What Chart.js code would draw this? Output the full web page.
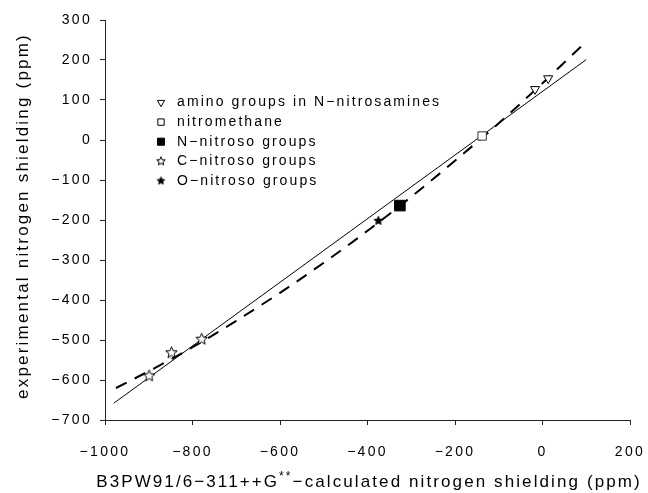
<!DOCTYPE html>
<html>
<head>
<meta charset="utf-8">
<script src="https://cdn.jsdelivr.net/npm/chart.js@4.4.1/dist/chart.umd.min.js"></script>
<style>
  html, body { margin: 0; padding: 0; background: #fff; }
  #wrap { width: 648px; height: 493px; }
</style>
</head>
<body>
<div id="wrap"><canvas id="grafico"></canvas></div>
<script>
// valores
const aminoX = [-17, 13];
const aminoY = [127, 154];
const nitrometanoX = [-138];
const nitrometanoY = [10];
const nNitrosoX = [-326];
const nNitrosoY = [-164];
const cNitrosoX = [-899, -848, -779];
const cNitrosoY = [-590, -532, -498];
const oNitrosoX = [-375];
const oNitrosoY = [-202];

// recta (solida) y curva (discontinua)
const rectaX = [-980, 100];
const rectaY = [-658, 201];
const curvaX = [-975, -900, -800, -700, -600, -500, -400, -300, -200, -100, 0, 100];
const curvaY = [-620, -578, -518, -452, -382, -307, -227, -142, -52, 42, 142, 246];

const xTicks = [-1000, -800, -600, -400, -200, 0, 200];
const yTicks = [300, 200, 100, 0, -100, -200, -300, -400, -500, -600, -700];

const etiquetas = [
  "amino groups in N\u2212nitrosamines",
  "nitromethane",
  "N\u2212nitroso groups",
  "C\u2212nitroso groups",
  "O\u2212nitroso groups"
];
const tituloX1 = "B3PW91/6\u2212311++G";
const tituloX2 = "**";
const tituloX3 = "\u2212calculated nitrogen shielding (ppm)";
const tituloY = "experimental nitrogen shielding (ppm)";

const FUENTE = "'Liberation Sans', Arial, sans-serif";

function puntos(xs, ys) {
  return xs.map((x, i) => ({ x: x, y: ys[i] }));
}

function estrella(r, relleno) {
  const s = Math.ceil(r * 2 + 3);
  const c = document.createElement("canvas");
  c.width = s; c.height = s;
  const g = c.getContext("2d");
  g.beginPath();
  for (let i = 0; i < 10; i++) {
    const rad = i % 2 === 0 ? r : r * 0.45;
    const a = -Math.PI / 2 + i * Math.PI / 5;
    const px = s / 2 + rad * Math.cos(a);
    const py = s / 2 + rad * Math.sin(a);
    if (i === 0) g.moveTo(px, py); else g.lineTo(px, py);
  }
  g.closePath();
  g.fillStyle = relleno ? "#000" : "#fff";
  g.fill();
  g.lineWidth = 1;
  g.strokeStyle = "#000";
  g.stroke();
  return c;
}

const estrellaAbierta = estrella(6, false);
const estrellaLlena = estrella(4.5, true);
const estrellaAbiertaLey = estrella(4.5, false);
const estrellaLlenaLey = estrella(4, true);

const menos = v => String(v).replace("-", "\u2212");

// leyenda marcadores
const marcasLeyenda = [
  { pointStyle: "triangle", rotation: 180, radius: 4.2, fill: "#fff" },
  { pointStyle: "rect", rotation: 0, radius: 4.5, fill: "#fff" },
  { pointStyle: "rect", rotation: 0, radius: 5, fill: "#000" },
  { pointStyle: estrellaAbiertaLey, rotation: 0, radius: 5, fill: "#fff" },
  { pointStyle: estrellaLlenaLey, rotation: 0, radius: 5, fill: "#000" }
];

const plugEspaciado = {
  id: "espaciado",
  beforeUpdate(chart) { chart.ctx.letterSpacing = "2.3px"; },
  beforeDraw(chart) { chart.ctx.letterSpacing = "2.3px"; }
};

const plugTextos = {
  id: "textos",
  afterDraw(chart) {
    const ctx = chart.ctx;
    ctx.save();
    // leyenda
    ctx.letterSpacing = "2.1px";
    ctx.font = "14px " + FUENTE;
    ctx.textBaseline = "middle";
    ctx.textAlign = "left";
    marcasLeyenda.forEach((m, i) => {
      const y = 102.5 + i * 19.6;
      ctx.fillStyle = m.fill;
      ctx.strokeStyle = "#000";
      ctx.lineWidth = 1;
      Chart.helpers.drawPoint(ctx, { pointStyle: m.pointStyle, rotation: m.rotation, radius: m.radius, borderWidth: 1 }, 161, y);
      ctx.fillStyle = "#000";
      ctx.fillText(etiquetas[i], 177, y);
    });

    // titulo eje x con superindice
    ctx.letterSpacing = "2.1px";
    ctx.textBaseline = "alphabetic";
    const fGrande = "17px " + FUENTE;
    const fPeq = "12px " + FUENTE;
    ctx.font = fGrande;
    const w1 = ctx.measureText(tituloX1).width;
    const w3 = ctx.measureText(tituloX3).width;
    ctx.font = fPeq;
    const w2 = ctx.measureText(tituloX2).width;
    let x = 369 - (w1 + w2 + w3) / 2;
    const yb = 487;
    ctx.font = fGrande;
    ctx.fillText(tituloX1, x, yb);
    x += w1;
    ctx.font = fPeq;
    ctx.fillText(tituloX2, x, yb - 7);
    x += w2;
    ctx.font = fGrande;
    ctx.fillText(tituloX3, x, yb);

    // titulo eje y
    ctx.letterSpacing = "2.2px";
    ctx.translate(23, 216);
    ctx.rotate(-Math.PI / 2);
    ctx.textAlign = "center";
    ctx.textBaseline = "middle";
    ctx.font = "17px " + FUENTE;
    ctx.fillText(tituloY, 0, 0);
    ctx.restore();
  }
};

new Chart(document.getElementById("grafico"), {
  type: "scatter",
  data: {
    datasets: [
      {
        label: etiquetas[0], data: puntos(aminoX, aminoY),
        pointStyle: "triangle", rotation: 180, pointRadius: 5.2,
        backgroundColor: "#fff", borderColor: "#000", borderWidth: 1
      },
      {
        label: etiquetas[1], data: puntos(nitrometanoX, nitrometanoY),
        pointStyle: "rect", pointRadius: 5.9,
        backgroundColor: "#fff", borderColor: "#333", borderWidth: 1
      },
      {
        label: etiquetas[2], data: puntos(nNitrosoX, nNitrosoY),
        pointStyle: "rect", pointRadius: 7.5,
        backgroundColor: "#000", borderColor: "#000", borderWidth: 1
      },
      {
        label: etiquetas[3], data: puntos(cNitrosoX, cNitrosoY),
        pointStyle: estrellaAbierta, pointRadius: 6
      },
      {
        label: etiquetas[4], data: puntos(oNitrosoX, oNitrosoY),
        pointStyle: estrellaLlena, pointRadius: 5
      },
      {
        label: "recta", data: puntos(rectaX, rectaY),
        showLine: true, pointRadius: 0, borderColor: "#000", borderWidth: 1
      },
      {
        label: "curva", data: puntos(curvaX, curvaY),
        showLine: true, pointRadius: 0, borderColor: "#000", borderWidth: 2,
        borderDash: [12, 9], cubicInterpolationMode: "monotone"
      }
    ]
  },
  options: {
    responsive: true,
    maintainAspectRatio: false,
    animation: false,
    layout: { padding: { left: 0, top: 20, right: 18, bottom: 0 } },
    plugins: {
      legend: { display: false },
      tooltip: { enabled: false }
    },
    scales: {
      x: {
        type: "linear", min: -1000, max: 200,
        afterBuildTicks: s => { s.ticks = xTicks.map(v => ({ value: v })); },
        afterFit: s => { s.height = 73; s.paddingLeft = 0; s.paddingRight = 0; },
        grid: { drawOnChartArea: false, drawTicks: true, tickLength: 5, color: "#222" },
        border: { display: true, color: "#222", width: 1 },
        ticks: { color: "#000", font: { family: FUENTE, size: 14 }, padding: 19, callback: menos, maxRotation: 0 }
      },
      y: {
        type: "linear", min: -700, max: 300,
        afterBuildTicks: s => { s.ticks = yTicks.map(v => ({ value: v })); },
        afterFit: s => { s.width = 105; s.paddingTop = 0; s.paddingBottom = 0; },
        grid: { drawOnChartArea: false, drawTicks: true, tickLength: 5, color: "#222" },
        border: { display: true, color: "#222", width: 1 },
        ticks: { color: "#000", font: { family: FUENTE, size: 14 }, padding: 8, callback: menos }
      }
    }
  },
  plugins: [plugEspaciado, plugTextos]
});
</script>
</body>
</html>
